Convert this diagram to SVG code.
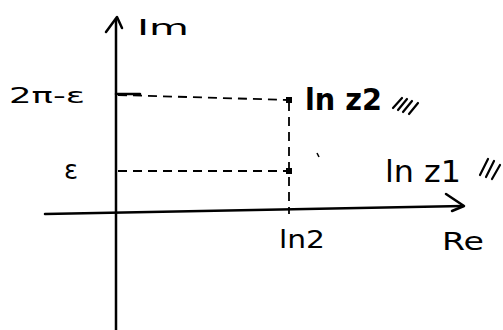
<svg xmlns="http://www.w3.org/2000/svg" width="503" height="330" viewBox="0 0 503 330">
<style>
.ax{stroke:#000;stroke-width:2.5;fill:none;stroke-linecap:round;stroke-linejoin:round}
.dash{stroke:#000;stroke-width:1.8;fill:none;stroke-dasharray:9 6}
.t{font-family:"DejaVu Sans",sans-serif;fill:#000}
.h{stroke:#000;stroke-width:2.2;stroke-linecap:round}
</style>
<rect width="503" height="330" fill="#fff"/>
<g id="connectors">
<path class="ax" d="M116,330 L116,20"/>
<path class="ax" d="M106,32 L117,17 L122,28"/>
<path class="ax" d="M45,214 L463,206"/>
<path class="ax" d="M446,194 L464,206 L452,211"/>
<path class="dash" d="M118,95 L289,100"/>
<path class="dash" d="M118,171 L289,171"/>
<path class="dash" d="M289,102 L289,214"/>
<path class="ax" d="M116,94 L140,94"/>
</g>
<g id="axis-im"><text class="t" x="137" y="35" font-size="21" textLength="52" lengthAdjust="spacingAndGlyphs">Im</text></g>
<g id="axis-re"><text class="t" x="442" y="250" font-size="24" textLength="42" lengthAdjust="spacingAndGlyphs">Re</text></g>
<g id="tick-2pi"><text class="t" x="9" y="103" font-size="22" textLength="76" lengthAdjust="spacingAndGlyphs">2π-ε</text></g>
<g id="tick-eps"><text class="t" x="64" y="179" font-size="26">ε</text></g>
<g id="tick-ln2"><text class="t" x="279" y="248" font-size="24" textLength="46" lengthAdjust="spacingAndGlyphs">ln2</text></g>
<g id="pt-z2">
<rect x="286" y="97" width="6" height="6" fill="#000"/>
<text class="t" x="305" y="110" font-size="30" font-weight="bold" textLength="77" lengthAdjust="spacingAndGlyphs">ln z2</text>
<path class="h" d="M393,108 L402,98 M398,110 L407,99 M403,112 L412,101 M409,114 L418,103"/>
</g>
<g id="pt-z1">
<rect x="286" y="168" width="6" height="6" fill="#000"/>
<text class="t" x="385" y="182" font-size="30" textLength="76" lengthAdjust="spacingAndGlyphs">ln z1</text>
<path class="h" d="M480,175 L488,159 M486,177 L494,161 M492,179 L500,165"/>
</g>
<path d="M317,153 L319,157" stroke="#000" stroke-width="1.5"/>
</svg>
